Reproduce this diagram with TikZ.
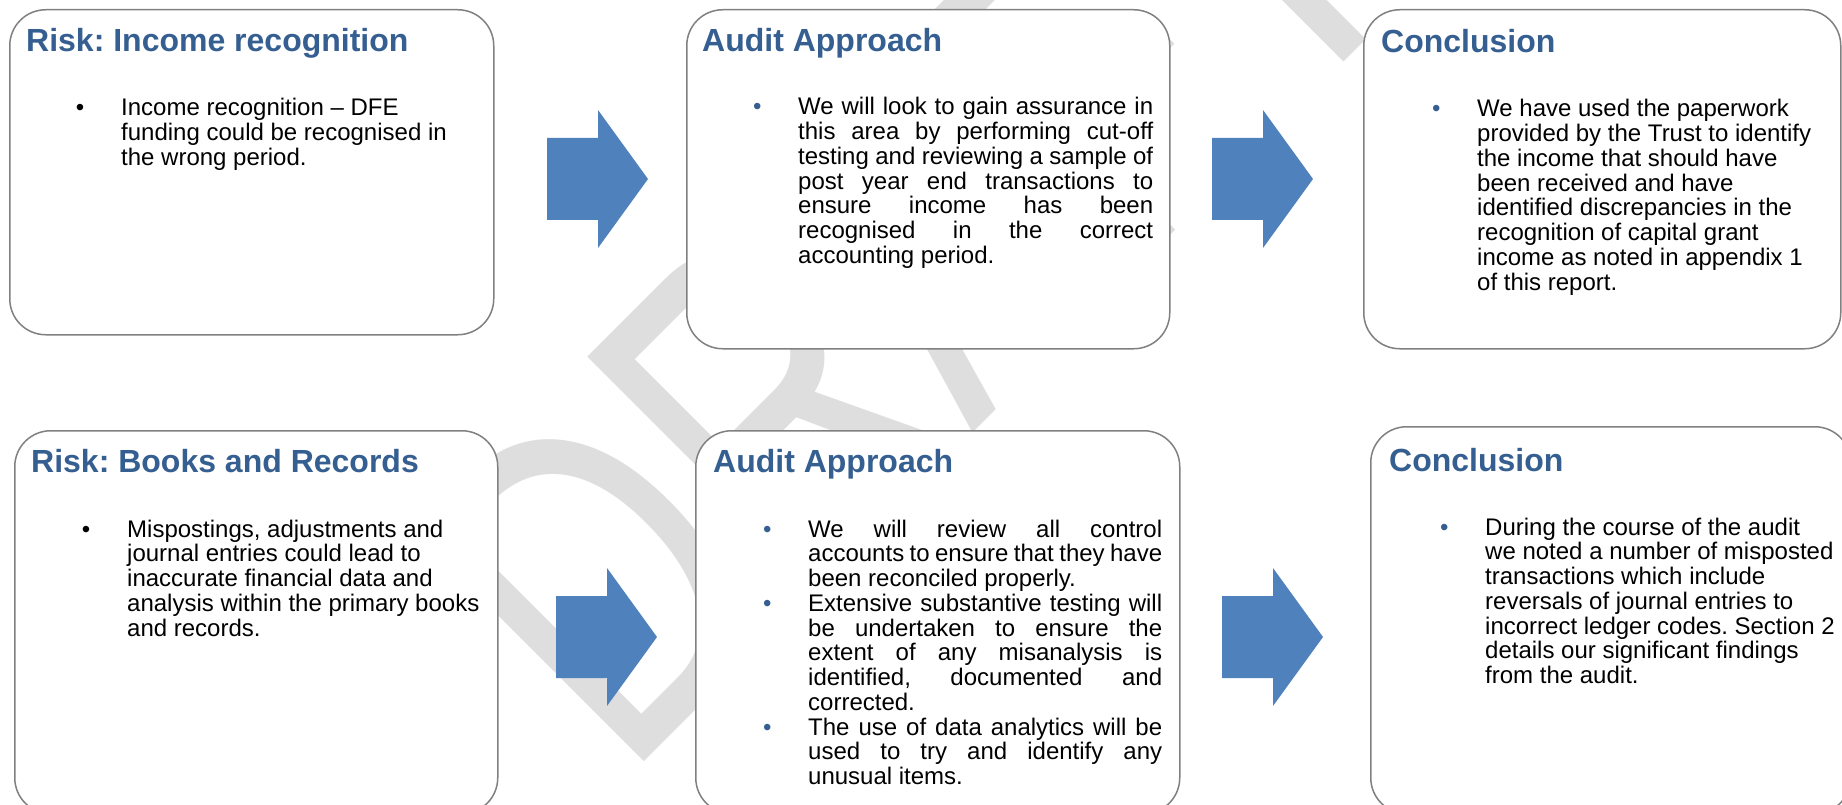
\documentclass[tikz,border=0pt]{standalone}
\usepackage{graphicx}
\usepackage{fontspec}
\setmainfont{Liberation Sans}
\frenchspacing

\definecolor{titleblue}{RGB}{54,95,145}
\definecolor{arrowblue}{RGB}{79,129,189}
\definecolor{cardline}{RGB}{128,128,128}
\definecolor{markgrey}{RGB}{222,222,222}

\newcommand{\bodyfont}{\fontsize{24pt}{24.75pt}\selectfont}
\newcommand{\titlefont}{\fontsize{32pt}{34pt}\selectfont\bfseries}
\newcommand{\markfont}{\fontsize{474pt}{474pt}\selectfont}
\newcommand{\dotbul}[1]{\leavevmode\spaceskip=0pt\xspaceskip=0pt\relax
  \llap{\textcolor{#1}{•}\hspace{36.8pt}}}
\newcommand{\jline}[1]{\makebox[\linewidth][s]{#1}\\}
\newcommand{\flowarrow}[2]{%
  \fill[arrowblue] (#1,#2-41) -- ++(51,0) -- ++(0,-28) -- (#1+101,#2)
    -- (#1+51,#2+69) -- ++(0,-28) -- (#1,#2+41) -- cycle;}

\tikzset{
  card/.style={draw=cardline, line width=1.5pt, fill=white, rounded corners=36pt,
    anchor=north west, inner sep=0pt},
  cardtitle/.style={anchor=base west, inner sep=0pt, text=titleblue, font=\titlefont},
  cardtext/.style={anchor=base west, inner sep=0pt, align=left, font=\bodyfont},
  watermark/.style={anchor=base west, inner sep=0pt, text=markgrey, font=\markfont},
}

\begin{document}
\begin{tikzpicture}[x=1pt, y=-1pt]
\useasboundingbox (0,0) rectangle (1842,805);
\clip (0,0) rectangle (1842,805);
\fill[white] (0,0) rectangle (1842,805);

\node[watermark, rotate=45] (draft) at (624,782) {\scalebox{0.72}[1]{DRAFT}};

% income row
\node[card, minimum width=484pt, minimum height=325pt] (riskIncome) at (9,9) {};
\node[card, minimum width=483pt, minimum height=339pt] (approachIncome) at (686,9) {};
\node[card, minimum width=477pt, minimum height=339pt] (conclusionIncome) at (1363,9) {};

\flowarrow{547}{179}
\flowarrow{1212}{179}

\node[cardtitle] (riskIncomeTitle) at (26,52) {Risk: Income recognition};
\node[cardtitle] (approachIncomeTitle) at (702,52) {Audit Approach};
\node[cardtitle] (conclusionIncomeTitle) at (1381,53) {Conclusion};

\node[cardtext, text width=370pt] (riskIncomeText) at (121,116)
  {\dotbul{black}Income recognition – DFE\\
   funding could be recognised in\\
   the wrong period.};
\node[cardtext, text width=355pt] (approachIncomeText) at (798,115)
  {\dotbul{titleblue}\jline{We will look to gain assurance in}%
   \jline{this area by performing cut-off}%
   \jline{testing and reviewing a sample of}%
   \jline{post year end transactions to}%
   \jline{ensure income has been}%
   \jline{recognised in the correct}%
   accounting period.};
\node[cardtext, text width=360pt] (conclusionIncomeText) at (1477,117)
  {\dotbul{titleblue}We have used the paperwork\\
   provided by the Trust to identify\\
   the income that should have\\
   been received and have\\
   identified discrepancies in the\\
   recognition of capital grant\\
   income as noted in appendix 1\\
   of this report.};

% books row
\node[card, minimum width=483pt, minimum height=383pt] (riskBooks) at (14,430) {};
\node[card, minimum width=484pt, minimum height=383pt] (approachBooks) at (695,430) {};
\node[card, minimum width=480pt, minimum height=387pt] (conclusionBooks) at (1370,426) {};

\flowarrow{556}{637}
\flowarrow{1222}{637}

\node[cardtitle] (riskBooksTitle) at (31,472) {Risk: Books and Records};
\node[cardtitle] (approachBooksTitle) at (713,472) {Audit Approach};
\node[cardtitle] (conclusionBooksTitle) at (1389,471) {Conclusion};

\node[cardtext, text width=370pt] (riskBooksText) at (127,537)
  {\dotbul{black}Mispostings, adjustments and\\
   journal entries could lead to\\
   inaccurate financial data and\\
   analysis within the primary books\\
   and records.};
\node[cardtext, text width=354pt] (approachBooksText) at (808,537)
  {\dotbul{titleblue}\jline{We will review all control}%
   \jline{accounts to ensure that they have}%
   been reconciled properly.\\
   \dotbul{titleblue}\jline{Extensive substantive testing will}%
   \jline{be undertaken to ensure the}%
   \jline{extent of any misanalysis is}%
   \jline{identified, documented and}%
   corrected.\\
   \dotbul{titleblue}\jline{The use of data analytics will be}%
   \jline{used to try and identify any}%
   unusual items.};
\node[cardtext, text width=360pt] (conclusionBooksText) at (1485,535)
  {\dotbul{titleblue}During the course of the audit\\
   we noted a number of misposted\\
   transactions which include\\
   reversals of journal entries to\\
   incorrect ledger codes. Section 2\\
   details our significant findings\\
   from the audit.};
\end{tikzpicture}
\end{document}
